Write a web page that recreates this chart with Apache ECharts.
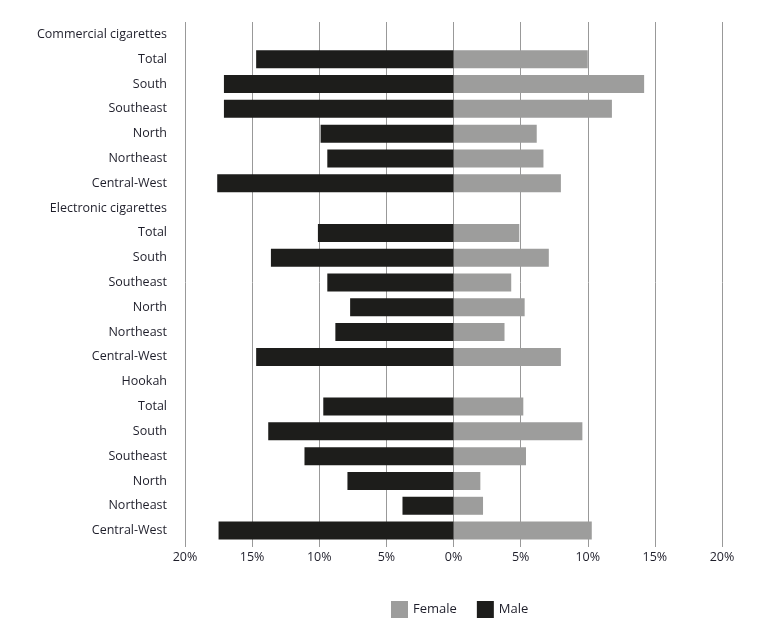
<!DOCTYPE html>
<html>
<head>
<meta charset="utf-8">
<script src="https://cdn.jsdelivr.net/npm/echarts@6/dist/echarts.min.js"></script>
<style>
  html, body { margin: 0; padding: 0; background: #fff; }
  #chart { width: 763px; height: 623px; }
</style>
</head>
<body>
<div id="chart"></div>
<script>
// rows from top to bottom (headers have no bars)
var categories = [
  "Commercial cigarettes", "Total", "South", "Southeast", "North", "Northeast", "Central-West",
  "Electronic cigarettes", "Total ", "South ", "Southeast ", "North ", "Northeast ", "Central-West ",
  "Hookah", "Total  ", "South  ", "Southeast  ", "North  ", "Northeast  ", "Central-West  "
];
var femaleValues = [
  null, 10.0, 14.2, 11.8, 6.2, 6.7, 8.0,
  null, 4.9, 7.1, 4.3, 5.3, 3.8, 8.0,
  null, 5.2, 9.6, 5.4, 2.0, 2.2, 10.3
];
var maleValues = [
  null, 14.7, 17.1, 17.1, 9.9, 9.4, 17.6,
  null, 10.1, 13.6, 9.4, 7.7, 8.8, 14.7,
  null, 9.7, 13.8, 11.1, 7.9, 3.8, 17.5
];
var xTicks = [-20, -15, -10, -5, 0, 5, 10, 15, 20];

var myChart = echarts.init(document.getElementById("chart"));
var font = "Open Sans";
var option = {
  animation: false,
  textStyle: { fontFamily: font },
  grid: { left: 185, right: 41, top: 22, bottom: 80 },
  legend: {
    top: 596,
    left: 386,
    itemWidth: 17,
    itemHeight: 17,
    itemGap: 20,
    icon: "rect",
    data: ["Female", "Male"],
    textStyle: { color: "#1e1e2a", fontSize: 13, fontFamily: font }
  },
  xAxis: {
    type: "value",
    min: xTicks[0],
    max: xTicks[xTicks.length - 1],
    interval: 5,
    axisLine: { show: false },
    axisTick: { show: true, length: 4, lineStyle: { color: "#999" } },
    splitLine: { show: true, lineStyle: { color: "#999", width: 1 } },
    axisLabel: {
      color: "#1e1e2a",
      fontSize: 12.5,
      margin: 8,
      formatter: function (v) { return Math.abs(v) + "%"; }
    }
  },
  yAxis: {
    type: "category",
    inverse: true,
    data: categories,
    axisLine: { show: false },
    axisTick: { show: false },
    axisLabel: {
      color: "#1e1e2a",
      fontSize: 12.5,
      margin: 18,
      formatter: function (v) { return v.trim(); }
    }
  },
  series: [
    {
      name: "Female",
      type: "bar",
      stack: "total",
      barWidth: 18,
      itemStyle: { color: "#9d9d9c" },
      data: femaleValues
    },
    {
      name: "Male",
      type: "bar",
      stack: "total",
      barWidth: 18,
      itemStyle: { color: "#1d1d1b" },
      data: maleValues.map(function (v) { return v == null ? null : -v; })
    }
  ]
};
myChart.setOption(option);
</script>
</body>
</html>
